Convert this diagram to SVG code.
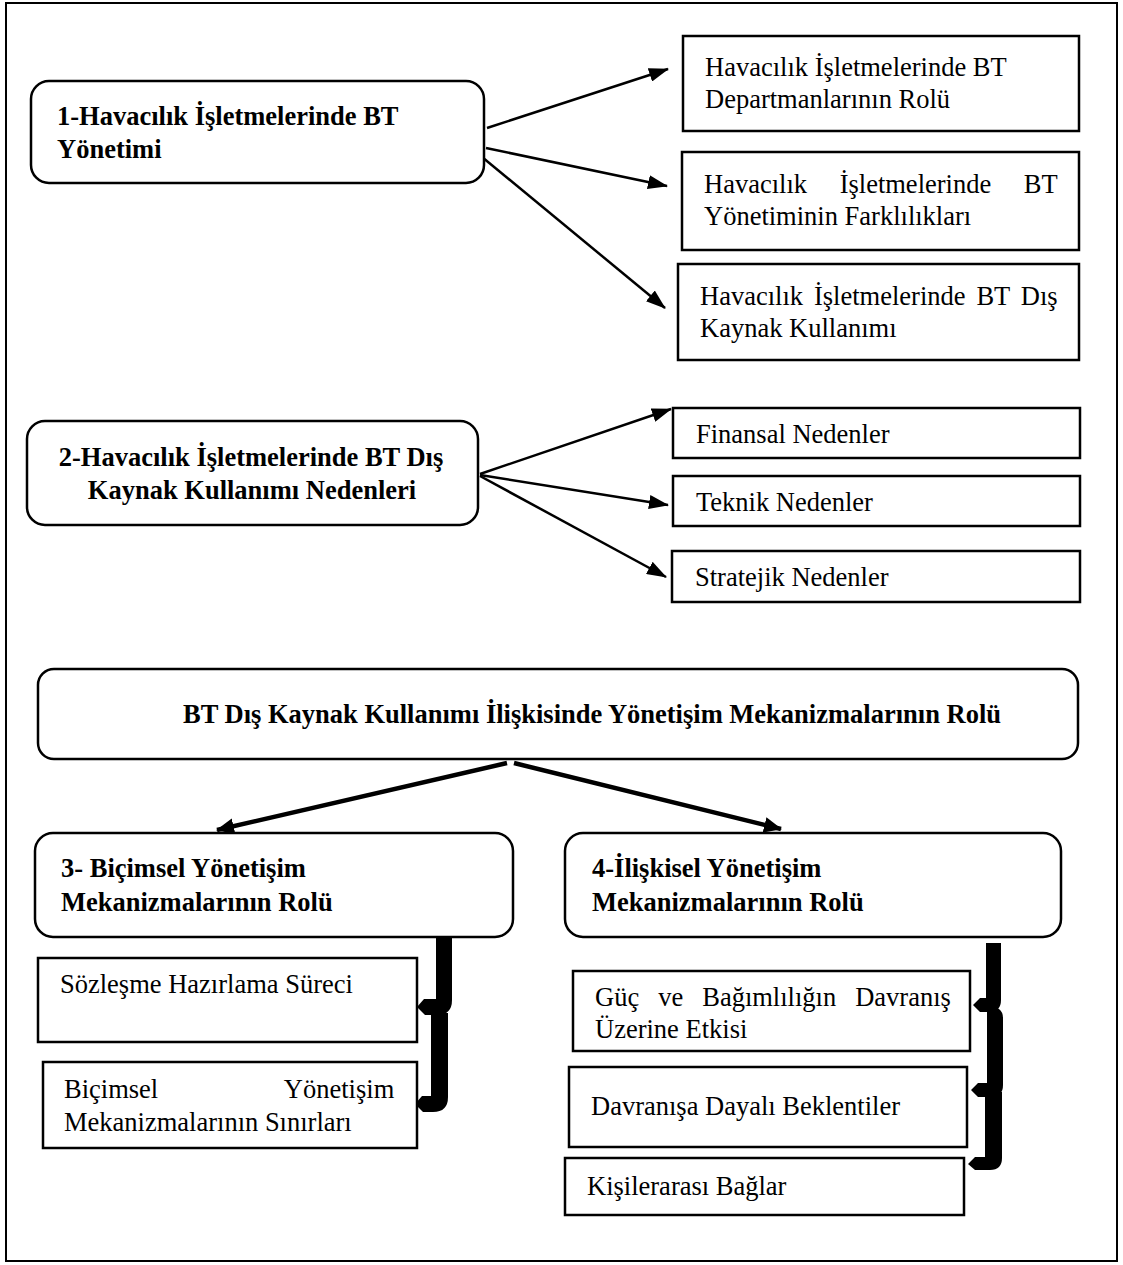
<svg xmlns="http://www.w3.org/2000/svg" width="1123" height="1265" viewBox="0 0 1123 1265">
  <style>
    .frame { fill: #fff; stroke: #000; stroke-width: 2; }
    .rbox { fill: #fff; stroke: #000; stroke-width: 2.5; }
    .box { fill: #fff; stroke: #000; stroke-width: 2.5; }
    text { font-family: "Liberation Serif", "Times New Roman", serif; font-size: 26.5px; fill: #000; }
    .b { font-weight: bold; }
    .mid { text-anchor: middle; }
    .end { text-anchor: end; }
    .link { stroke: #000; stroke-width: 2.5; fill: none; }
    .link-thick { stroke: #000; stroke-width: 4.5; fill: none; }
    .brace { fill: #000; stroke: none; }
  </style>
  <defs>
    <marker id="head" markerUnits="userSpaceOnUse" markerWidth="20" markerHeight="14" refX="19" refY="7" orient="auto">
      <path d="M0,0 L20,7 L0,14 Z" fill="#000"/>
    </marker>
    <marker id="head-thick" markerUnits="userSpaceOnUse" markerWidth="18" markerHeight="16" refX="17" refY="8" orient="auto">
      <path d="M0,0 L18,8 L0,16 Z" fill="#000"/>
    </marker>
  </defs>

  <rect class="frame" x="6" y="3" width="1111" height="1258"/>

  <!-- connectors -->
  <g id="connectors">
    <line class="link" x1="487" y1="128" x2="668" y2="69" marker-end="url(#head)"/>
    <line class="link" x1="486" y1="148" x2="667" y2="186" marker-end="url(#head)"/>
    <line class="link" x1="482" y1="157" x2="665" y2="308" marker-end="url(#head)"/>

    <line class="link" x1="480" y1="474" x2="671" y2="409" marker-end="url(#head)"/>
    <line class="link" x1="480" y1="475" x2="668" y2="505" marker-end="url(#head)"/>
    <line class="link" x1="480" y1="476" x2="666" y2="577" marker-end="url(#head)"/>

    <line class="link-thick" x1="507" y1="763" x2="217" y2="830" marker-end="url(#head-thick)"/>
    <line class="link-thick" x1="514" y1="763" x2="781" y2="829" marker-end="url(#head-thick)"/>

    <!-- brace arrows on the left column -->
    <path class="brace" d="M436 937 H452 V1000 Q452 1015 437 1015 H425 L417 1007 L424 999 H436 Z"/>
    <path class="brace" d="M431 1013 H448 V1097 Q448 1112 433 1112 H423 L415 1104 L422 1096 H431 Z"/>

    <!-- brace arrows on the right column -->
    <path class="brace" d="M986 943 H1001 V1000 Q1001 1012 989 1012 H980 L973 1005 L980 998 H986 Z"/>
    <path class="brace" d="M987 1006 Q1003 1006 1003 1018 V1085 Q1003 1097 991 1097 H978 L971 1090 L978 1083 H987 Z"/>
    <path class="brace" d="M985 1092 H1002 V1158 Q1002 1170 990 1170 H975 L968 1164 L975 1157 H985 Z"/>
  </g>

  <!-- section 1 -->
  <g id="n1">
    <rect class="rbox" x="31" y="81" width="453" height="102" rx="18"/>
    <text class="b" x="57" y="125">1-Havacılık İşletmelerinde BT</text>
    <text class="b" x="57" y="158">Yönetimi</text>
  </g>
  <g id="n1a">
    <rect class="box" x="683" y="36" width="396" height="95"/>
    <text x="705" y="76">Havacılık İşletmelerinde BT</text>
    <text x="705" y="108">Departmanlarının Rolü</text>
  </g>
  <g id="n1b">
    <rect class="box" x="682" y="152" width="397" height="98"/>
    <text x="704" y="193" word-spacing="26">Havacılık İşletmelerinde BT</text>
    <text x="704" y="225">Yönetiminin Farklılıkları</text>
  </g>
  <g id="n1c">
    <rect class="box" x="678" y="264" width="401" height="96"/>
    <text x="700" y="305" word-spacing="4.3">Havacılık İşletmelerinde BT Dış</text>
    <text x="700" y="337">Kaynak Kullanımı</text>
  </g>

  <!-- section 2 -->
  <g id="n2">
    <rect class="rbox" x="27" y="421" width="451" height="104" rx="18"/>
    <text class="b mid" x="251" y="466">2-Havacılık İşletmelerinde BT Dış</text>
    <text class="b mid" x="252" y="499">Kaynak Kullanımı Nedenleri</text>
  </g>
  <g id="n2a">
    <rect class="box" x="673" y="408" width="407" height="50"/>
    <text x="696" y="443">Finansal Nedenler</text>
  </g>
  <g id="n2b">
    <rect class="box" x="673" y="476" width="407" height="50"/>
    <text x="696" y="511">Teknik Nedenler</text>
  </g>
  <g id="n2c">
    <rect class="box" x="672" y="551" width="408" height="51"/>
    <text x="695" y="586">Stratejik Nedenler</text>
  </g>

  <!-- governance -->
  <g id="n-gov">
    <rect class="rbox" x="38" y="669" width="1040" height="90" rx="16"/>
    <text class="b" x="183" y="723">BT Dış Kaynak Kullanımı İlişkisinde Yönetişim Mekanizmalarının Rolü</text>
  </g>

  <g id="n3">
    <rect class="rbox" x="35" y="833" width="478" height="104" rx="18"/>
    <text class="b" x="61" y="877">3- Biçimsel Yönetişim</text>
    <text class="b" x="61" y="911">Mekanizmalarının Rolü</text>
  </g>
  <g id="n3a">
    <rect class="box" x="38" y="958" width="379" height="84"/>
    <text x="60" y="993">Sözleşme Hazırlama Süreci</text>
  </g>
  <g id="n3b">
    <rect class="box" x="43" y="1062" width="374" height="86"/>
    <text x="64" y="1098" word-spacing="120">Biçimsel Yönetişim</text>
    <text x="64" y="1131">Mekanizmalarının Sınırları</text>
  </g>

  <g id="n4">
    <rect class="rbox" x="565" y="833" width="496" height="104" rx="18"/>
    <text class="b" x="592" y="877">4-İlişkisel Yönetişim</text>
    <text class="b" x="592" y="911">Mekanizmalarının Rolü</text>
  </g>
  <g id="n4a">
    <rect class="box" x="573" y="971" width="397" height="80"/>
    <text x="595" y="1006" word-spacing="12.4">Güç ve Bağımlılığın Davranış</text>
    <text x="595" y="1038">Üzerine Etkisi</text>
  </g>
  <g id="n4b">
    <rect class="box" x="569" y="1067" width="398" height="80"/>
    <text x="591" y="1115">Davranışa Dayalı Beklentiler</text>
  </g>
  <g id="n4c">
    <rect class="box" x="565" y="1158" width="399" height="57"/>
    <text x="587" y="1195">Kişilerarası Bağlar</text>
  </g>
</svg>
